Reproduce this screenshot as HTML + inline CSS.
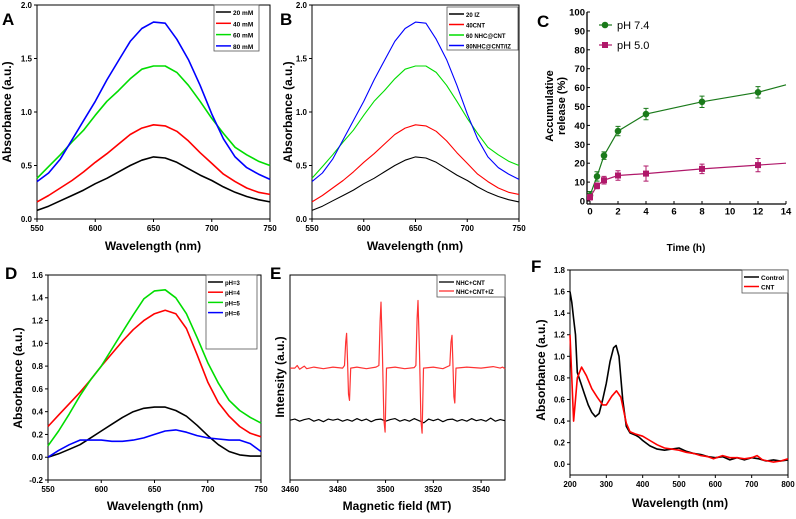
<!DOCTYPE html>
<html><head><meta charset="utf-8"><style>
body{margin:0;background:#fff}
svg{display:block;font-family:"Liberation Sans",sans-serif}
</style></head><body>
<svg id="fig" width="796" height="519" viewBox="0 0 796 519" xmlns="http://www.w3.org/2000/svg"></svg>
<script>
// ---------- data ----------
const wl = [550,560,570,580,590,600,610,620,630,640,650,660,670,680,690,700,710,720,730,740,750];
const absA20 = [.08,.12,.17,.22,.27,.33,.38,.44,.5,.55,.58,.57,.53,.47,.41,.36,.3,.25,.21,.18,.16];
const absA40 = [.16,.22,.29,.36,.44,.53,.61,.70,.79,.85,.88,.87,.82,.73,.62,.52,.42,.35,.29,.25,.23];
const absA60 = [.38,.49,.60,.72,.83,.97,1.10,1.20,1.31,1.40,1.43,1.43,1.37,1.25,1.10,.94,.80,.67,.60,.54,.50];
const absA80 = [.35,.43,.56,.74,.92,1.1,1.3,1.48,1.66,1.78,1.84,1.83,1.68,1.49,1.25,.98,.75,.58,.48,.42,.37];
const legendA = ["20 mM","40 mM","60 mM","80 mM"];
const legendB = ["20 IZ","40CNT","60 NHC@CNT","80NHC@CNT/IZ"];
const ticksAy = [0,0.5,1,1.5,2];
const ticksAx = [550,600,650,700,750];

const timeH = [0,0.5,1,2,4,8,12];
const rel74 = [3,13,24,37,46,52.5,57.5];
const err74 = [2,2.5,2,2.5,3,3,3];
const rel50 = [2,8,11,13.5,14.5,17,19];
const err50 = [1.5,1.5,2,2.5,4,2.5,3.5];
const rel74End = 61.5, rel50End = 20, tEnd = 14;
const ticksCx = [0,2,4,6,8,10,12,14];
const ticksCy = [0,10,20,30,40,50,60,70,80,90,100];

const absD3 = [0,.03,.07,.11,.17,.23,.29,.35,.4,.43,.44,.44,.41,.36,.28,.19,.11,.05,.02,.01,.01];
const absD4 = [.27,.37,.47,.57,.68,.8,.91,1.02,1.12,1.2,1.26,1.29,1.26,1.13,.9,.66,.48,.36,.27,.21,.18];
const absD5 = [.1,.23,.38,.54,.68,.8,.95,1.1,1.25,1.39,1.46,1.47,1.4,1.26,1.05,.83,.65,.5,.41,.35,.3];
const absD6 = [0,.06,.11,.15,.15,.15,.14,.14,.15,.17,.2,.23,.24,.22,.19,.17,.16,.15,.15,.12,.05];
const legendD = ["pH=3","pH=4","pH=5","pH=6"];
const ticksDy = [-0.2,0,0.2,0.4,0.6,0.8,1.0,1.2,1.4,1.6];

const fieldRed = [3460,3462,3463,3464,3466,3467,3470,3474,3478,3482,3482.8,3483.3,3483.7,3484.1,3484.5,3484.9,3485.4,3488,3492,3496,3497.2,3497.7,3498.1,3498.7,3499.3,3499.8,3500.4,3504,3508,3512,3512.7,3513.2,3513.6,3514.2,3514.8,3515.3,3515.9,3520,3524,3526.9,3527.4,3527.8,3528.2,3528.6,3529,3529.5,3534,3540,3545,3548,3549,3550];
const intRed = [1,1.0,1.05,.98,1.04,.99,1.02,.99,1.02,1,1.05,1.5,1.67,1.1,.5,.38,1.0,1.02,.99,1.02,1.05,1.9,2.27,1.3,.0,-.23,1.0,1.02,.99,1.01,1.05,1.95,2.3,1.3,.0,-.25,1,1.02,.99,1.05,1.5,1.63,1.1,.45,.33,1,1.02,1.0,1.03,1.0,1.02,.99];
const fieldBlk = [3460,3462,3464,3466,3468,3470,3472,3474,3476,3478,3480,3482,3484,3486,3488,3490,3492,3494,3496,3498,3500,3502,3504,3506,3508,3510,3512,3514,3516,3518,3520,3522,3524,3526,3528,3530,3532,3534,3536,3538,3540,3542,3544,3546,3548,3550];
const intBlk = [0,.02,-.02,.01,.03,-.02,.01,-.03,.02,0,.02,-.02,.01,-.02,.03,-.01,.02,-.03,.01,.02,-.02,.01,.03,-.02,.01,-.02,.03,-.01,-.05,.02,-.01,.02,-.03,.01,.02,-.02,.01,-.02,.03,-.01,.01,-.02,.04,-.02,.01,-.01];
const legendE = ["NHC+CNT","NHC+CNT+IZ"];

const wlF1 = [200,205,210,215,220,230,240,250,260,270,280,290,300,310,320,327,335,345,355,365,380,390,400,420,440,460,480,500,520,540,560,580,600,620,640,660,680,700,720,740,760,780,800];
const absCtrl = [1.6,1.5,1.35,1.2,.85,.75,.65,.55,.48,.44,.47,.6,.75,.95,1.08,1.1,1.0,.6,.35,.29,.27,.25,.22,.17,.14,.13,.14,.15,.12,.1,.09,.07,.06,.07,.04,.06,.04,.06,.05,.03,.04,.03,.04];
const wlF2 = [200,205,210,215,220,232,245,260,275,290,300,315,328,340,355,365,380,400,420,440,460,480,500,520,540,560,580,595,620,640,660,680,700,715,730,760,780,800];
const absCNT = [1.2,.8,.4,.6,.8,.9,.82,.7,.62,.55,.55,.63,.68,.62,.38,.3,.28,.26,.22,.18,.15,.14,.13,.11,.1,.08,.07,.05,.08,.06,.06,.05,.06,.08,.04,.02,.03,.05];
const ticksFy = [0,0.2,0.4,0.6,0.8,1.0,1.2,1.4,1.6,1.8];
const ticksFx = [200,300,400,500,600,700,800];

// ---------- helpers ----------
const NS="http://www.w3.org/2000/svg", svg=document.getElementById('fig');
function mk(tag,attrs,parent,text){const e=document.createElementNS(NS,tag);for(const k in attrs)e.setAttribute(k,attrs[k]);if(text!==undefined)e.textContent=text;(parent||svg).appendChild(e);return e;}
function scale(d0,d1,r0,r1){return v=>r0+(v-d0)*(r1-r0)/(d1-d0);}
function linePath(xs,ys,sx,sy){return xs.map((x,i)=>(i?'L':'M')+sx(x).toFixed(1)+','+sy(ys[i]).toFixed(1)).join('');}

function framePanel(name,x0,x1,y0,y1,xd,yd,xt,yt,fmtY,fmtX,box,fs){
  fs=fs||8;
  const g=mk('g',{},svg);
  const sx=scale(xd[0],xd[1],x0,x1), sy=scale(yd[0],yd[1],y1,y0);
  if(box){const r=mk('rect',{x:x0,y:y0,width:x1-x0,height:y1-y0,fill:'none',stroke:'#000','stroke-width':1},g);}
  const xa=mk('g',{},g);
  const ya=mk('g',{},g);
  xt.forEach(v=>{const X=sx(v);mk('line',{x1:X,x2:X,y1:y1,y2:y1+3,stroke:'#000'},xa);
    const t=mk('text',{x:X,y:y1+4+fs,'font-size':fs,'font-weight':'bold','text-anchor':'middle'},xa,fmtX(v));});
  yt.forEach(v=>{const Y=sy(v);mk('line',{x1:x0-3,x2:x0,y1:Y,y2:Y,stroke:'#000'},ya);
    const t=mk('text',{x:x0-5,y:Y+fs*0.37,'font-size':fs,'font-weight':'bold','text-anchor':'end'},ya,fmtY(v));});
  return {g,sx,sy};
}
function series(p,xs,ys,color,w,name){const e=mk('path',{d:linePath(xs,ys,p.sx,p.sy),fill:'none',stroke:color,'stroke-width':w,'stroke-linejoin':'round'},p.g);return e;}
function legend(x,y,w,h,labels,colors,fs,lw,name,rowH){
  const g=mk('g',{},svg);
  mk('rect',{x:x,y:y,width:w,height:h,fill:'#fff',stroke:'#555','stroke-width':0.8},g);
  labels.forEach((l,i)=>{const Y=y+7+i*rowH;
    const en=mk('g',{},g);
    mk('line',{x1:x+2,x2:x+17,y1:Y,y2:Y,stroke:colors[i],'stroke-width':lw},en);
    mk('text',{x:x+19,y:Y+3,'font-size':fs,'font-weight':'bold'},en,l);});
}
function txt(x,y,s,fs,name,opts){const t=mk('text',Object.assign({x:x,y:y,'font-size':fs,'font-weight':'bold'},opts||{}),svg,s);return t;}
function ytitle(x,y,s,fs,name){return txt(x,y,s,fs,name,{'text-anchor':'middle',transform:`rotate(-90 ${x} ${y})`});}
const f1=v=>v.toFixed(1), f0=v=>String(v);
const cols=['#000','#f00','#0d0','#00f'];

// ---------- Panel A ----------
let pA=framePanel('panel-a',37,270,5,219,[550,750],[0,2],ticksAx,ticksAy,f1,f0,true);
[absA20,absA40,absA60,absA80].forEach((d,i)=>series(pA,wl,d,cols[i],1.6,'line-a-'+legendA[i].replace(' ','')));
legend(214,5,45,46,legendA,cols,6.5,1.5,'legend-a',11.3);
txt(2,25,'A',17,'panel-label-a');
txt(153,250,'Wavelength (nm)',12,'x-axis-title-a',{'text-anchor':'middle'});
ytitle(11,112,'Absorbance (a.u.)',12,'y-axis-title-a');

// ---------- Panel B ----------
let pB=framePanel('panel-b',312,519,5,219,[550,750],[0,2],ticksAx,ticksAy,f1,f0,true);
[absA20,absA40,absA60,absA80].forEach((d,i)=>series(pB,wl,d,cols[i],1.1,'line-b-'+i));
legend(447,7,71,43,legendB,cols,6,1.5,'legend-b',10.5);
txt(280,25,'B',17,'panel-label-b');
txt(415,250,'Wavelength (nm)',12,'x-axis-title-b',{'text-anchor':'middle'});
ytitle(292,112,'Absorbance (a.u.)',12,'y-axis-title-b');

// ---------- Panel C ----------
let pC=framePanel('panel-c',590,786,12,201,[0,14],[0,100],ticksCx,ticksCy,f0,f0,false,9.5);
mk('line',{x1:587,x2:587,y1:12,y2:204,stroke:'#000','stroke-width':1.3},pC.g);
mk('line',{x1:587,x2:786,y1:204,y2:204,stroke:'#000','stroke-width':1.3},pC.g);
function relSeries(vals,errs,end,color,shape,name){
  const g=mk('g',{},pC.g);
  const xs=timeH.concat([tEnd]), ys=vals.concat([end]);
  mk('path',{d:linePath(xs,ys,pC.sx,pC.sy),fill:'none',stroke:color,'stroke-width':1.2},g);
  timeH.forEach((t,i)=>{const X=pC.sx(t),Y=pC.sy(vals[i]),e1=pC.sy(vals[i]+errs[i]),e0=pC.sy(vals[i]-errs[i]);
    mk('path',{d:`M${X},${e1}V${e0}M${X-2.5},${e1}H${X+2.5}M${X-2.5},${e0}H${X+2.5}`,stroke:color,'stroke-width':1,fill:'none'},g);
    let m; if(shape==='c') m=mk('circle',{cx:X,cy:Y,r:3.3,fill:color},g); else m=mk('rect',{x:X-3,y:Y-3,width:6,height:6,fill:color},g);
    });
}
relSeries(rel74,err74,rel74End,'#1a7a1a','c','series-ph74');
relSeries(rel50,err50,rel50End,'#b0186a','s','series-ph50');
const lgC=mk('g',{},svg);
mk('line',{x1:599,x2:612,y1:25,y2:25,stroke:'#1a7a1a','stroke-width':1.2},lgC);mk('circle',{cx:605,cy:25,r:3.3,fill:'#1a7a1a'},lgC);
mk('text',{x:617,y:29,'font-size':11},lgC,'pH 7.4');
mk('line',{x1:599,x2:612,y1:45,y2:45,stroke:'#b0186a','stroke-width':1.2},lgC);mk('rect',{x:602,y:42,width:6,height:6,fill:'#b0186a'},lgC);
mk('text',{x:617,y:49,'font-size':11},lgC,'pH 5.0');
txt(537,27,'C',17,'panel-label-c');
txt(686,251,'Time (h)',10,'x-axis-title-c',{'text-anchor':'middle'});
ytitle(553,106,'Accumulative',11,'y-axis-title-c');
ytitle(565,106,'release (%)',11,'y-axis-title-c2');

// ---------- Panel D ----------
let pD=framePanel('panel-d',48,261,275,480,[550,750],[-0.2,1.6],ticksAx,ticksDy,f1,f0,true);
[absD3,absD4,absD5,absD6].forEach((d,i)=>series(pD,wl,d,cols[i],1.6,'line-d-'+legendD[i]));
legend(206,275,51,74,legendD,cols,6,1.5,'legend-d',10.2);
txt(5,279,'D',17,'panel-label-d');
txt(155,510,'Wavelength (nm)',12,'x-axis-title-d',{'text-anchor':'middle'});
ytitle(22,378,'Absorbance (a.u.)',12,'y-axis-title-d');

// ---------- Panel E ----------
let pE=framePanel('panel-e',290,505,275,480,[3460,3550],[-1.15,2.79],[3460,3480,3500,3520,3540],[],f1,f0,true);
series(pE,fieldBlk,intBlk,'#000',1.2,'line-e-nhc-cnt');
series(pE,fieldRed,intRed,'#f33',1.2,'line-e-nhc-cnt-iz');
legend(437,275,68,22,legendE,['#000','#f33'],6,1.3,'legend-e',9);
txt(270,279,'E',17,'panel-label-e');
txt(397,510,'Magnetic field (MT)',12,'x-axis-title-e',{'text-anchor':'middle'});
ytitle(284,377,'Intensity (a.u.)',12,'y-axis-title-e');

// ---------- Panel F ----------
let pF=framePanel('panel-f',570,788,270,475,[200,800],[-0.1,1.8],ticksFx,ticksFy,f1,f0,true);
series(pF,wlF1,absCtrl,'#000',1.6,'line-f-control');
series(pF,wlF2,absCNT,'#f00',1.6,'line-f-cnt');
legend(742,270,46,23,['Control','CNT'],['#000','#f00'],6.5,1.5,'legend-f',9.5);
txt(531,272,'F',17,'panel-label-f');
txt(680,507,'Wavelength (nm)',12,'x-axis-title-f',{'text-anchor':'middle'});
ytitle(545,370,'Absorbance (a.u.)',12,'y-axis-title-f');
</script>
</body></html>
